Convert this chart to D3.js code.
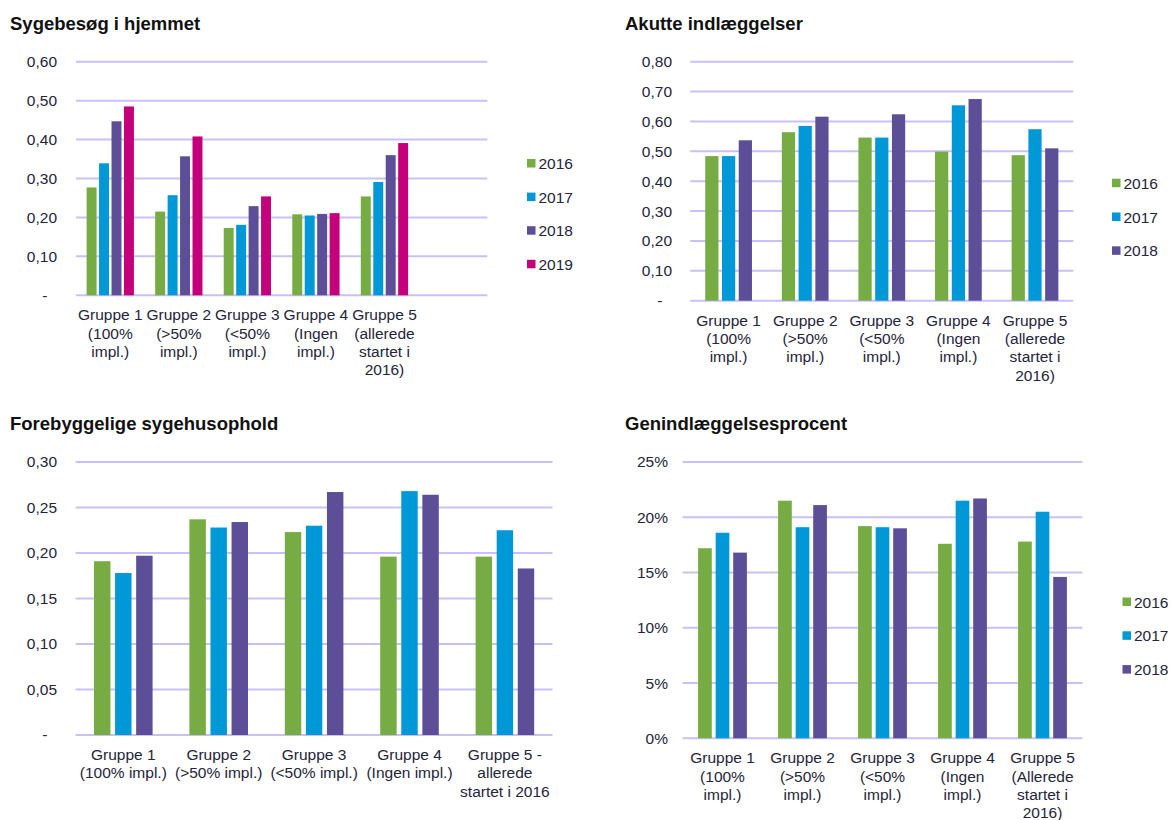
<!DOCTYPE html>
<html>
<head>
<meta charset="utf-8">
<script src="https://cdn.jsdelivr.net/npm/d3@7/dist/d3.min.js"></script>
<style>
  html, body { margin: 0; padding: 0; background: #fff; }
  svg { display: block; font-family: "Liberation Sans", Arial, sans-serif; }
  .title { font-weight: bold; font-size: 18.5px; fill: #111; }
  .tick text, .cat, .legend text { font-size: 15.5px; fill: #24243a; }
</style>
</head>
<body>
<svg id="chart" width="1171" height="820"></svg>
<script>
// Series names and colours
const years4 = ["2016", "2017", "2018", "2019"];
const years3 = ["2016", "2017", "2018"];
const yearColors = { "2016": "#77ab43", "2017": "#0098d7", "2018": "#5c4f97", "2019": "#c4007b" };

// Sygebesøg i hjemmet
const homeLabels = [
  ["Gruppe 1", "(100%", "impl.)"],
  ["Gruppe 2", "(>50%", "impl.)"],
  ["Gruppe 3", "(<50%", "impl.)"],
  ["Gruppe 4", "(Ingen", "impl.)"],
  ["Gruppe 5", "(allerede", "startet i", "2016)"]
];
const home2016 = [0.277, 0.215, 0.173, 0.208, 0.254];
const home2017 = [0.339, 0.257, 0.181, 0.205, 0.291];
const home2018 = [0.447, 0.357, 0.229, 0.209, 0.360];
const home2019 = [0.485, 0.408, 0.254, 0.211, 0.391];
const homeTicks = [0, 0.1, 0.2, 0.3, 0.4, 0.5, 0.6];

// Akutte indlæggelser
const acuteLabels = [
  ["Gruppe 1", "(100%", "impl.)"],
  ["Gruppe 2", "(>50%", "impl.)"],
  ["Gruppe 3", "(<50%", "impl.)"],
  ["Gruppe 4", "(Ingen", "impl.)"],
  ["Gruppe 5", "(allerede", "startet i", "2016)"]
];
const acute2016 = [0.484, 0.564, 0.546, 0.499, 0.487];
const acute2017 = [0.484, 0.585, 0.546, 0.654, 0.574];
const acute2018 = [0.537, 0.616, 0.624, 0.675, 0.510];
const acuteTicks = [0, 0.1, 0.2, 0.3, 0.4, 0.5, 0.6, 0.7, 0.8];

// Forebyggelige sygehusophold
const prevLabels = [
  ["Gruppe 1", "(100% impl.)"],
  ["Gruppe 2", "(>50% impl.)"],
  ["Gruppe 3", "(<50% impl.)"],
  ["Gruppe 4", "(Ingen impl.)"],
  ["Gruppe 5 -", "allerede", "startet i 2016"]
];
const prev2016 = [0.191, 0.237, 0.223, 0.196, 0.196];
const prev2017 = [0.178, 0.228, 0.230, 0.268, 0.225];
const prev2018 = [0.197, 0.234, 0.267, 0.264, 0.183];
const prevTicks = [0, 0.05, 0.10, 0.15, 0.20, 0.25, 0.30];

// Genindlæggelsesprocent
const readmLabels = [
  ["Gruppe 1", "(100%", "impl.)"],
  ["Gruppe 2", "(>50%", "impl.)"],
  ["Gruppe 3", "(<50%", "impl.)"],
  ["Gruppe 4", "(Ingen", "impl.)"],
  ["Gruppe 5", "(Allerede", "startet i", "2016)"]
];
const readm2016 = [0.172, 0.215, 0.192, 0.176, 0.178];
const readm2017 = [0.186, 0.191, 0.191, 0.215, 0.205];
const readm2018 = [0.168, 0.211, 0.190, 0.217, 0.146];
const readmTicks = [0, 0.05, 0.10, 0.15, 0.20, 0.25];

const da = d3.formatLocale({ decimal: ",", thousands: ".", grouping: [3], currency: ["", " kr."] });
const fmt2 = v => v === 0 ? "-" : da.format(".2f")(v);
const fmtPct = v => da.format(".0%")(v);

const svg = d3.select("#chart");

function panel(cfg) {
  const g = svg.append("g");
  const n = cfg.labels.length;
  const years = cfg.years;

  g.append("text").attr("class", "title")
    .attr("x", cfg.titleX).attr("y", cfg.titleY).text(cfg.title);

  const y = d3.scaleLinear().domain([0, d3.max(cfg.ticks)]).range([cfg.y0, cfg.y1]);
  const x0 = d3.scaleBand().domain(d3.range(n)).range([cfg.x0, cfg.x0 + cfg.band * n]).padding(0);
  const bw = x0.bandwidth();
  const x1 = d3.scaleBand().domain(years)
    .range([bw * (1 - cfg.groupFrac) / 2, bw * (1 + cfg.groupFrac) / 2])
    .paddingInner(cfg.innerPad).paddingOuter(0);

  // gridlines
  g.append("g").selectAll("line").data(cfg.ticks).join("line")
    .attr("x1", cfg.x0).attr("x2", cfg.gridX2)
    .attr("y1", d => y(d)).attr("y2", d => y(d))
    .attr("stroke", "#c7c1f7").attr("stroke-width", 2);

  // y axis labels
  const axis = d3.axisLeft(y).tickValues(cfg.ticks).tickFormat(cfg.format).tickSize(0).tickPadding(0);
  const ax = g.append("g").attr("transform", `translate(${cfg.labelRight},0)`).call(axis);
  ax.select(".domain").remove();
  ax.selectAll(".tick text").attr("font-family", null).attr("font-size", null).attr("fill", null)
    .attr("dx", d => cfg.format(d) === "-" ? -9.5 : 0);

  // bars
  const series = years.map(yr => ({ yr, vals: cfg.values[yr] }));
  g.append("g").selectAll("g").data(series).join("g")
    .attr("fill", d => yearColors[d.yr])
    .selectAll("rect").data(d => d.vals.map((v, i) => ({ v, i, yr: d.yr }))).join("rect")
    .attr("x", d => x0(d.i) + x1(d.yr))
    .attr("width", x1.bandwidth())
    .attr("y", d => y(d.v))
    .attr("height", d => y(0) - y(d.v));

  // category labels
  const cats = g.append("g").selectAll("text").data(cfg.labels).join("text")
    .attr("class", "cat").attr("text-anchor", "middle")
    .attr("x", (d, i) => x0(i) + bw / 2)
    .attr("y", cfg.y0 + 25);
  cats.selectAll("tspan").data(d => d).join("tspan")
    .attr("x", function () { return this.parentNode.getAttribute("x"); })
    .attr("dy", (d, i) => i === 0 ? 0 : 18.3)
    .text(d => d);

  // legend
  if (cfg.legend) {
    const lg = g.append("g").attr("class", "legend")
      .selectAll("g").data(years).join("g")
      .attr("transform", (d, i) => `translate(${cfg.legendX},${cfg.legendY + i * cfg.legendStep})`);
    lg.append("rect").attr("x", 0).attr("y", -4.5).attr("width", 8.5).attr("height", 8.5)
      .attr("fill", d => yearColors[d]);
    lg.append("text").attr("x", 11.5).attr("y", 5.5).text(d => d);
  }
}

panel({
  title: "Sygebesøg i hjemmet", titleX: 10, titleY: 30,
  labels: homeLabels, years: years4, ticks: homeTicks, format: fmt2,
  values: { "2016": home2016, "2017": home2017, "2018": home2018, "2019": home2019 },
  x0: 76, band: 68.55, gridX2: 487.3, y0: 295.3, y1: 61.7, labelRight: 57,
  groupFrac: 0.69, innerPad: 0.2,
  legend: true, legendX: 527, legendY: 163.5, legendStep: 33.6
});

panel({
  title: "Akutte indlæggelser", titleX: 625, titleY: 30,
  labels: acuteLabels, years: years3, ticks: acuteTicks, format: fmt2,
  values: { "2016": acute2016, "2017": acute2017, "2018": acute2018 },
  x0: 690.3, band: 76.6, gridX2: 1073.3, y0: 300.7, y1: 61.7, labelRight: 672,
  groupFrac: 0.61, innerPad: 0.21,
  legend: true, legendX: 1112, legendY: 183.2, legendStep: 33.8
});

panel({
  title: "Forebyggelige sygehusophold", titleX: 10, titleY: 429.5,
  labels: prevLabels, years: years3, ticks: prevTicks, format: fmt2,
  values: { "2016": prev2016, "2017": prev2017, "2018": prev2018 },
  x0: 75.6, band: 95.4, gridX2: 552.5, y0: 735, y1: 462, labelRight: 57,
  groupFrac: 0.614, innerPad: 0.22,
  legend: false
});

panel({
  title: "Genindlæggelsesprocent", titleX: 625, titleY: 429.5,
  labels: readmLabels, years: years3, ticks: readmTicks, format: fmtPct,
  values: { "2016": readm2016, "2017": readm2017, "2018": readm2018 },
  x0: 682.5, band: 80, gridX2: 1082.4, y0: 738.3, y1: 462, labelRight: 668,
  groupFrac: 0.61, innerPad: 0.22,
  legend: true, legendX: 1122.5, legendY: 602, legendStep: 33.8
});
</script>
</body>
</html>
